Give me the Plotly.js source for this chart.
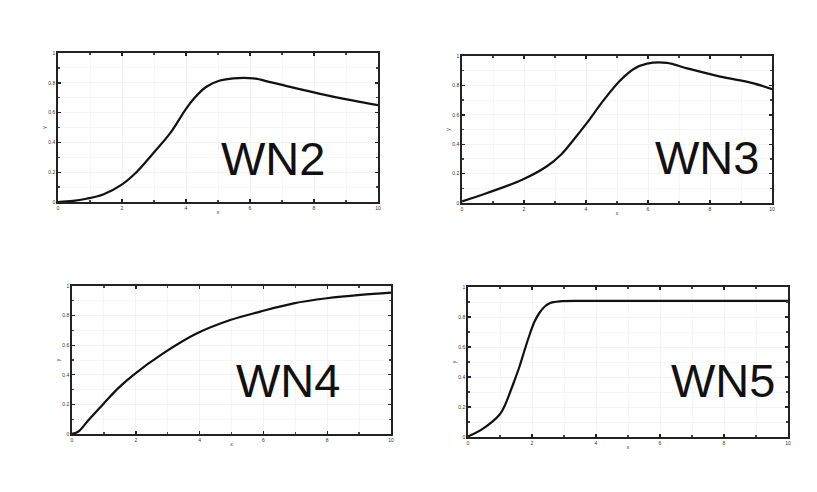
<!DOCTYPE html>
<html>
<head>
<meta charset="utf-8">
<script src="https://cdn.plot.ly/plotly-3.0.1.min.js"></script>
<style>html,body{margin:0;padding:0;background:#fff;}#chart{width:817px;height:492px;}</style>
</head>
<body>
<div id="chart"></div>
<script>
// Panel names
const panelNames = ["WN2", "WN3", "WN4", "WN5"];

// WN2 curve
const wn2X = [0, 0.47, 0.89, 1.41, 1.98, 2.45, 2.97, 3.5, 3.97, 4.23, 4.65, 5.06, 5.48, 6.1, 6.63, 7.15, 8.19, 9.24, 10];
const wn2Y = [0, 0.007, 0.022, 0.05, 0.115, 0.2, 0.326, 0.46, 0.615, 0.69, 0.775, 0.815, 0.83, 0.83, 0.805, 0.778, 0.726, 0.68, 0.65];

// WN3 curve
const wn3X = [0, 0.81, 1.94, 2.74, 3.2, 3.6, 4.03, 4.57, 5.11, 5.54, 5.97, 6.61, 7.26, 8.33, 9.41, 10];
const wn3Y = [0.011, 0.068, 0.158, 0.25, 0.33, 0.43, 0.545, 0.70, 0.835, 0.912, 0.948, 0.953, 0.916, 0.86, 0.814, 0.774];

// WN4 curve
const wn4X = [0, 0.21, 0.5, 0.99, 1.45, 1.93, 2.87, 3.92, 4.96, 5.9, 6.95, 7.99, 9.04, 10];
const wn4Y = [0, 0.018, 0.09, 0.205, 0.31, 0.40, 0.546, 0.68, 0.77, 0.827, 0.883, 0.917, 0.94, 0.955];

// WN5 curve
const wn5X = [0, 0.47, 0.99, 1.15, 1.3, 1.45, 1.61, 1.77, 1.93, 2.08, 2.24, 2.4, 2.55, 2.86, 3.8, 10];
const wn5Y = [0.004, 0.056, 0.15, 0.21, 0.29, 0.375, 0.47, 0.58, 0.685, 0.77, 0.83, 0.87, 0.892, 0.904, 0.907, 0.907];

// Tick labels (illegible in reference; small placeholders)
const xTickVals = [0, 2, 4, 6, 8, 10];
const xTickText = ["0", "2", "4", "6", "8", "10"];
const yTickVals = [0, 0.2, 0.4, 0.6, 0.8, 1.0];
const yTickText = ["0", "0.2", "0.4", "0.6", "0.8", "1"];

const seriesX = [wn2X, wn3X, wn4X, wn5X];
const seriesY = [wn2Y, wn3Y, wn4Y, wn5Y];

const W = 817, H = 492;
// pixel boxes [left, right, top, bottom]
const boxes = [
  [58, 378, 53, 202],
  [462, 772, 56, 203],
  [72, 391, 286, 434],
  [468, 788, 287, 437]
];
// label centres [x px, y px]
const labelPos = [[273, 158], [707, 157], [288, 380], [723, 380]];

const traces = [];
const layout = {
  width: W, height: H,
  margin: {l: 0, r: 0, t: 0, b: 0},
  paper_bgcolor: "#ffffff",
  plot_bgcolor: "#ffffff",
  showlegend: false,
  annotations: [],
  font: {family: "Liberation Sans, Arial, sans-serif", color: "#111"}
};

for (let i = 0; i < 4; i++) {
  const n = i === 0 ? "" : String(i + 1);
  traces.push({
    type: "scatter", mode: "lines",
    x: seriesX[i], y: seriesY[i],
    xaxis: "x" + n, yaxis: "y" + n,
    line: {color: "#111111", width: 2.2, shape: "spline", smoothing: 1},
    hoverinfo: "skip"
  });
  const b = boxes[i];
  const axCommon = {
    showline: true, linecolor: "#222", linewidth: 1.8, mirror: "allticks",
    ticks: "inside", ticklen: 3, tickwidth: 1.4, tickcolor: "#222",
    showgrid: true, gridcolor: "#f3f3f3", gridwidth: 1,
    zeroline: false,
    tickfont: {size: 5, color: "#333"},
    minor: {ticks: "inside", ticklen: 2, tickcolor: "#444", showgrid: true, gridcolor: "#f6f6f6"}
  };
  layout["xaxis" + n] = Object.assign({}, axCommon, {
    domain: [b[0] / W, b[1] / W],
    anchor: "y" + n,
    range: [0, 10],
    tickvals: xTickVals, ticktext: xTickText,
    minor: Object.assign({}, axCommon.minor, {dtick: 1}),
    title: {text: "x", font: {size: 5, color: "#333"}, standoff: 1}
  });
  layout["yaxis" + n] = Object.assign({}, axCommon, {
    domain: [1 - b[3] / H, 1 - b[2] / H],
    anchor: "x" + n,
    range: [0, 1],
    tickvals: yTickVals, ticktext: yTickText,
    minor: Object.assign({}, axCommon.minor, {dtick: 0.1}),
    title: {text: "y", font: {size: 5, color: "#333"}, standoff: 1}
  });
  layout.annotations.push({
    text: panelNames[i],
    xref: "paper", yref: "paper",
    x: labelPos[i][0] / W, y: 1 - labelPos[i][1] / H,
    xanchor: "center", yanchor: "middle",
    showarrow: false,
    font: {family: "Liberation Sans, Arial, sans-serif", size: 47, color: "#111"}
  });
}

Plotly.newPlot("chart", traces, layout, {displayModeBar: false, staticPlot: true});
</script>
</body>
</html>
